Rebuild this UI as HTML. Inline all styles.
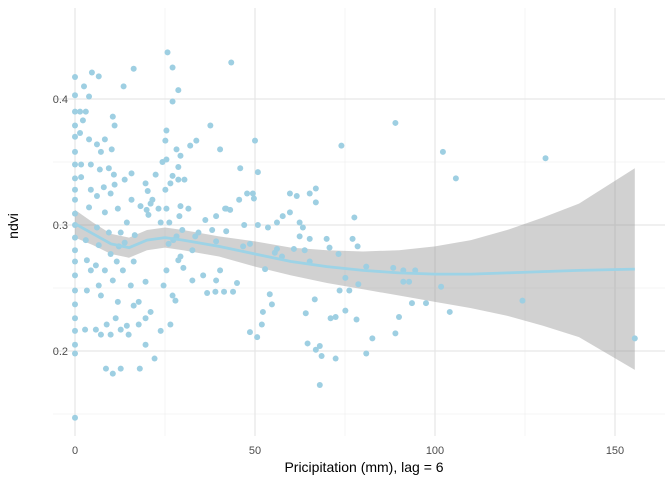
<!DOCTYPE html>
<html><head><meta charset="utf-8"><style>
html,body{margin:0;padding:0;background:#fff;}
svg{display:block;font-family:"Liberation Sans",sans-serif;}
</style></head><body>
<svg id="chart" width="672" height="480" xmlns="http://www.w3.org/2000/svg">
<g id="grid"></g>
<g id="band"></g>
<g id="pts"></g>
<g id="line"></g>
<g id="axes"></g>
<text x="364" y="472" text-anchor="middle" font-size="14" fill="#000">Pricipitation (mm), lag = 6</text>
<text transform="translate(18,226) rotate(-90)" text-anchor="middle" font-size="14" fill="#000">ndvi</text>
</svg>
<script>
const xTicks=[0,50,100,150];
const xMinor=[25,75,125];
const yTicks=[0.2,0.3,0.4];
const yMinor=[0.15,0.25,0.35];
const ptX=[0,0,0,0,0,0,0,0,0,0,0,0,0,0,0,0,0,0,0,0,0,0,0,
4.7,6.6,2.5,3.9,1.4,3,2.2,10.5,13.5,16.3,1.4,3.9,8.3,6.1,7.2,10.2,11,1.7,4.4,6.9,9.4,10.8,1.7,8,11,4.4,6.1,9.9,13.8,15.7,15.7,3.9,8.3,11.9,18.2,14.4,6.1,9.4,12.7,16.6,3,6.6,9.9,12.2,13.8,3.3,5.8,8.3,11.6,16.3,4.4,13.3,15.5,19.6,6.6,10.5,3.3,7.2,11.9,16.3,17.7,11.3,8.8,14.4,2.8,5.8,7.2,9.9,12.7,14.9,17.7,19.6,21,19.6,22.1,8.6,12.7,10.5,18,
23.8,26.5,27.1,27.9,24.6,25.4,28.7,29.3,32.6,35.6,32.6,36.7,39,43.9,45,41.4,39.2,40.3,46.7,48.6,47,42,38.1,36.2,33.4,30.1,28.2,27.3,26,26.2,29,29.8,34.3,39.2,39.2,41.7,43.1,29.3,31.5,25.4,25.1,28.7,30.4,27.1,28.7,26.5,28.2,29.3,32,33.7,40.3,45.9,49.4,42,45.6,47.8,49.7,50.8,37.6,43.4,25.7,27.1,28.7,25.1,25.4,27.1,24.3,25.4,22.4,19.6,20.2,19.9,21,20.4,23.2,21.5,23.8,
50,53.6,55.5,57.5,52.8,54.1,52.2,51.9,48.6,50.6,54.7,50.8,56.1,59.7,57.7,56.1,62.4,63.3,63.8,65.2,60.8,61.6,65.2,66.9,66.9,59.7,62.4,64.1,68,71,64.6,66.9,68.5,75.1,73.5,73.2,74,77.6,
89,102.2,105.8,65.2,69.9,70.7,77.1,78.5,80.9,75.1,88.4,78.7,76.2,91.2,94.5,91.2,92.8,101.7,66.6,72.4,78.2,90,93.6,97.5,104.1,82.6,89,80.9,72.4,68,124.3,130.7,155.5];
const ptY=[0.4175,0.403,0.390,0.379,0.370,0.358,0.348,0.337,0.328,0.320,0.309,0.300,0.290,0.280,0.271,0.260,0.248,0.237,0.226,0.216,0.205,0.198,0.147,
0.421,0.418,0.410,0.402,0.390,0.390,0.383,0.386,0.410,0.424,0.373,0.368,0.368,0.364,0.358,0.360,0.379,0.348,0.348,0.344,0.345,0.340,0.338,0.330,0.332,0.328,0.323,0.325,0.336,0.341,0.320,0.314,0.310,0.313,0.315,0.302,0.298,0.294,0.294,0.292,0.288,0.284,0.277,0.283,0.286,0.272,0.268,0.264,0.271,0.271,0.264,0.264,0.252,0.255,0.252,0.256,0.248,0.244,0.239,0.236,0.239,0.226,0.221,0.220,0.217,0.217,0.213,0.213,0.217,0.213,0.221,0.226,0.231,0.205,0.194,0.186,0.186,0.182,0.186,
0.216,0.221,0.244,0.240,0.252,0.264,0.272,0.275,0.280,0.260,0.256,0.246,0.247,0.247,0.254,0.247,0.256,0.264,0.283,0.285,0.300,0.295,0.296,0.304,0.291,0.266,0.291,0.288,0.285,0.302,0.307,0.296,0.294,0.287,0.307,0.313,0.312,0.315,0.313,0.313,0.328,0.336,0.336,0.339,0.346,0.333,0.360,0.355,0.363,0.367,0.360,0.345,0.325,0.313,0.320,0.325,0.321,0.342,0.379,0.429,0.437,0.425,0.407,0.367,0.375,0.398,0.350,0.352,0.340,0.333,0.327,0.312,0.317,0.308,0.313,0.320,0.302,
0.367,0.298,0.278,0.275,0.265,0.245,0.231,0.221,0.215,0.211,0.237,0.300,0.281,0.310,0.307,0.302,0.302,0.298,0.280,0.271,0.281,0.323,0.325,0.318,0.329,0.325,0.291,0.230,0.204,0.226,0.206,0.201,0.196,0.232,0.248,0.277,0.363,0.306,
0.381,0.358,0.337,0.289,0.289,0.282,0.289,0.283,0.267,0.258,0.266,0.253,0.248,0.264,0.264,0.255,0.255,0.251,0.241,0.227,0.225,0.227,0.238,0.238,0.231,0.210,0.214,0.198,0.194,0.173,0.240,0.353,0.210];
const fitX=[0,5,10,15,20,25,30,40,50,60,70,80,90,100,110,120,130,140,155.5];
const fitY=[0.301,0.293,0.285,0.282,0.288,0.290,0.288,0.283,0.277,0.271,0.267,0.264,0.262,0.261,0.261,0.262,0.263,0.264,0.265];
const fitSE=[0.011,0.009,0.008,0.008,0.008,0.008,0.008,0.008,0.010,0.011,0.013,0.015,0.018,0.022,0.027,0.034,0.043,0.053,0.080];

const NS='http://www.w3.org/2000/svg';
const L=53,R=665,T=8,B=436;
const sx=v=>75+v*3.6;
const sy=v=>225-(v-0.3)*1260;
function mk(tag,attrs,parent){const e=document.createElementNS(NS,tag);for(const k in attrs)e.setAttribute(k,attrs[k]);parent.appendChild(e);return e;}
const grid=document.getElementById('grid');
xMinor.forEach(v=>{const e=mk('line',{x1:sx(v),x2:sx(v),y1:T,y2:B,stroke:'#f2f2f2','stroke-width':0.8},grid);

});
yMinor.forEach(v=>{const e=mk('line',{x1:L,x2:R,y1:sy(v),y2:sy(v),stroke:'#f2f2f2','stroke-width':0.8},grid);

});
xTicks.forEach(v=>{const e=mk('line',{x1:sx(v),x2:sx(v),y1:T,y2:B,stroke:'#e6e6e6','stroke-width':1.2},grid);

});
yTicks.forEach(v=>{const e=mk('line',{x1:L,x2:R,y1:sy(v),y2:sy(v),stroke:'#e6e6e6','stroke-width':1.2},grid);

});
const axes=document.getElementById('axes');
xTicks.forEach(v=>{const t=mk('text',{x:sx(v),y:454,'text-anchor':'middle','font-size':11,fill:'#4d4d4d'},axes);t.textContent=v;

});
yTicks.forEach(v=>{const t=mk('text',{x:68,y:sy(v)+4,'text-anchor':'end','font-size':11,fill:'#4d4d4d'},axes);t.textContent=v.toFixed(1);

});
let up=fitX.map((x,i)=>sx(x)+','+sy(fitY[i]+fitSE[i]));
let dn=fitX.map((x,i)=>sx(x)+','+sy(fitY[i]-fitSE[i])).reverse();
const band=mk('polygon',{points:up.concat(dn).join(' '),fill:'#999999','fill-opacity':0.45},document.getElementById('band'));


const pts=document.getElementById('pts');
ptX.forEach((x,i)=>{const c=mk('circle',{cx:sx(x),cy:sy(ptY[i]),r:3,fill:'#9ecfe2'},pts);

});
const pl=mk('polyline',{points:fitX.map((x,i)=>sx(x)+','+sy(fitY[i])).join(' '),fill:'none',stroke:'#9dd3e6','stroke-width':2.8,'stroke-linejoin':'round'},document.getElementById('line'));


</script>
</body></html>
